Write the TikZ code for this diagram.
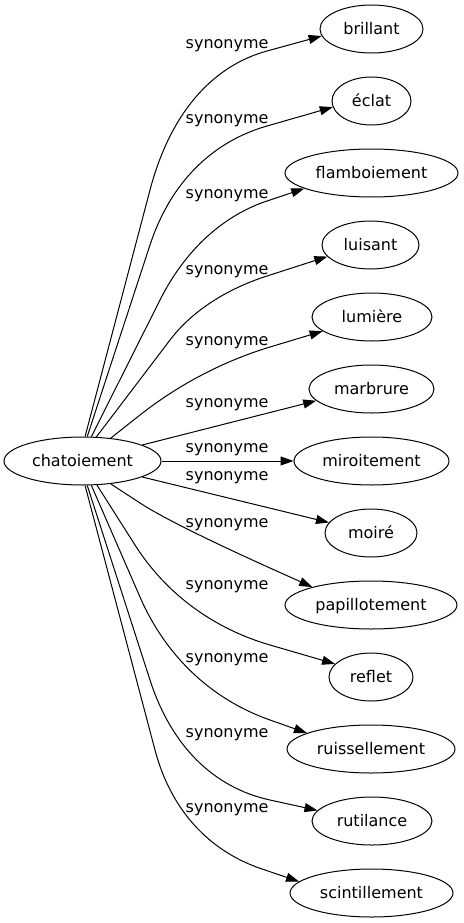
\documentclass[tikz,border=0pt]{standalone}
\usepackage{fontspec}
\setmainfont{DejaVu Sans}
\usetikzlibrary{shapes.geometric,arrows.meta,calc}
% #1 start anchor, #2 end of straight part, #3 knee, #4 end anchor
\newcommand\synEdge[4]{%
  \coordinate (cS) at (#1);
  \coordinate (cA) at #2;
  \coordinate (cK) at #3;
  \coordinate (cT) at (#4);
  \coordinate (cX) at (intersection of cS--cA and cK--cT);
  \draw[edge] (cS) -- (cA) .. controls ($(cA)!0.65!(cX)$) and ($(cK)!0.65!(cX)$) .. (cK) -- (cT);
}
\begin{document}
\begin{tikzpicture}[x=1pt,y=-1pt,
  nd/.style={draw, ellipse, line width=1pt, inner sep=0pt, minimum height=48pt,
    text height=13pt, text depth=1.6pt, font=\fontsize{16}{19}\selectfont},
  lbl/.style={anchor=base west, inner sep=0pt, font=\fontsize{16}{19}\selectfont},
  edge/.style={line width=1pt, -{Triangle[length=13pt,width=9pt]}}]
\useasboundingbox (0,0) rectangle (463,923);
% nodes
\node[nd, minimum width=157pt] (chat) at (82.5,461) {chatoiement};
\node[nd, minimum width=103pt] (bril) at (371.5,29) {brillant};
\node[nd, minimum width=79pt]  (ecla) at (371.5,101) {éclat};
\node[nd, minimum width=173pt] (flam) at (371.5,173) {flamboiement};
\node[nd, minimum width=97pt]  (luis) at (370.5,245) {luisant};
\node[nd, minimum width=120pt] (lumi) at (372,317) {lumière};
\node[nd, minimum width=125pt] (marb) at (371.5,389) {marbrure};
\node[nd, minimum width=155pt] (miro) at (371.5,461) {miroitement};
\node[nd, minimum width=92pt]  (moir) at (371,533) {moiré};
\node[nd, minimum width=172pt] (papi) at (371,605) {papillotement};
\node[nd, minimum width=84pt]  (refl) at (371,677) {reflet};
\node[nd, minimum width=168pt] (ruis) at (371,749) {ruissellement};
\node[nd, minimum width=120pt] (ruti) at (372,821) {rutilance};
\node[nd, minimum width=163pt] (scin) at (371.5,893) {scintillement};
% labels
\node[lbl] (l1)  at (185.5,48.8)  {synonyme};
\node[lbl] (l2)  at (185.5,123.8) {synonyme};
\node[lbl] (l3)  at (185.5,198.8) {synonyme};
\node[lbl] (l4)  at (185.5,274.3) {synonyme};
\node[lbl] (l5)  at (185.5,345.3) {synonyme};
\node[lbl] (l6)  at (185.5,407.3) {synonyme};
\node[lbl] (l7)  at (185.5,452.3) {synonyme};
\node[lbl] (l8)  at (185.5,480.3) {synonyme};
\node[lbl] (l9)  at (185.5,527.3) {synonyme};
\node[lbl] (l10) at (185.5,589.3) {synonyme};
\node[lbl] (l11) at (185.5,662.3) {synonyme};
\node[lbl] (l12) at (185.5,737.3) {synonyme};
\node[lbl] (l13) at (185.5,812.3) {synonyme};
% edges
\synEdge{chat.84}{(150,190)}{(267,51)}{bril.188}
\synEdge{chat.79}{(150,245)}{(267,126)}{ecla.189}
\synEdge{chat.70}{(160,300)}{(267,201)}{flam.193}
\synEdge{chat.60}{(170,340)}{(267,276)}{luis.195}
\synEdge{chat.39}{(140,415)}{(270,347)}{lumi.196}
\draw[edge] (chat.15) -- (marb.192);
\draw[edge] (chat.east) -- (miro.west);
\draw[edge] (chat.-15) -- (moir.166);
\synEdge{chat.-39}{(140,503)}{(270,568)}{papi.163}
\synEdge{chat.-59}{(135,545)}{(270,645)}{refl.160}
\synEdge{chat.-70}{(140,597)}{(270,720)}{ruis.166}
\synEdge{chat.-79}{(150,680)}{(270,800)}{ruti.169}
\synEdge{chat.-84}{(155,750)}{(262,869)}{scin.171}
\end{tikzpicture}
\end{document}
